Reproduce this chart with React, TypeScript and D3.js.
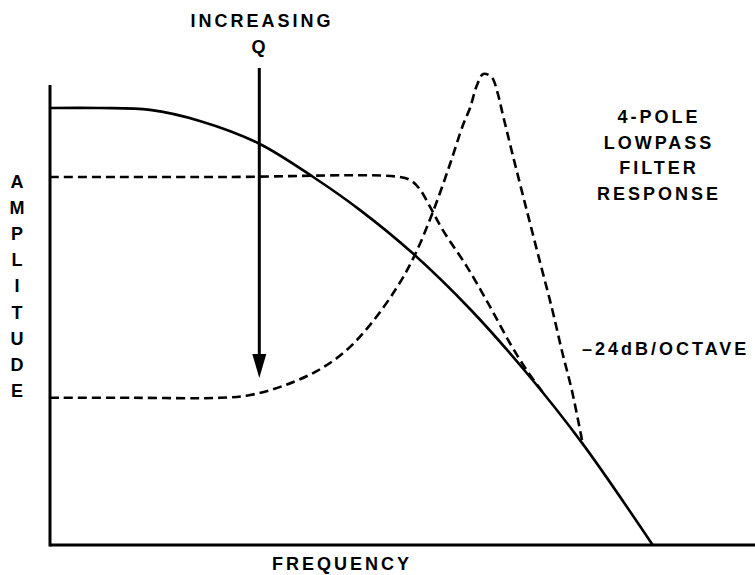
import React from 'react';
import * as d3 from 'd3';

// frequency (0-100) vs amplitude (0-100)
const flatFreq = [0, 7.1, 14.3, 21.4, 29.7, 37.6, 44.3, 51.9, 60.0, 68.1, 76.0, 86.1];
const flatAmp = [95.0, 95.0, 94.6, 92.2, 87.4, 80.0, 72.8, 63.3, 51.3, 37.4, 22.2, 0];

const midQFreq = [0, 25, 50.0, 51.7, 52.9, 54.3, 56.1, 59.6, 62.9, 65.7, 68.1, 70.7];
const midQAmp = [80.0, 80.0, 80.0, 79.1, 77.2, 73.5, 68.5, 60.4, 51.7, 43.9, 38.0, 32.6];

const highQFreq = [0, 12, 24.3, 28.6, 33.3, 38.1, 42.1, 45.7, 49.6, 52.1, 54.7, 57.1, 59.0, 60.0, 61.0, 61.9, 63.1, 63.9, 64.7, 66.1, 68.1, 70.0, 71.7, 73.1, 74.6, 76.0];
const highQAmp = [32.0, 32.0, 32.0, 32.6, 34.6, 37.8, 42.0, 47.8, 56.1, 63.0, 72.4, 82.6, 91.3, 95.0, 100.0, 102.4, 101.7, 98.5, 93.5, 84.8, 72.8, 61.5, 51.5, 42.4, 33.3, 22.8];

// arrow: frequency position, start and end amplitude
const arrowFreq = 29.9;
const arrowAmp = [103.7, 36.3];

const axisLetters = ['A', 'M', 'P', 'L', 'I', 'T', 'U', 'D', 'E'];
const titleLines = ['4-POLE', 'LOWPASS', 'FILTER', 'RESPONSE'];

const width = 755;
const height = 575;
const font = '"Liberation Sans", Arial, Helvetica, sans-serif';

const App = () => {
  const x = d3.scaleLinear().domain([0, 100]).range([50, 750]);
  const y = d3.scaleLinear().domain([0, 100]).range([545, 85]);

  const line = d3
    .line<[number, number]>()
    .x(d => x(d[0]))
    .y(d => y(d[1]))
    .curve(d3.curveCatmullRom.alpha(0.5));

  const zip = (xs: number[], ys: number[]) => xs.map((v, i) => [v, ys[i]] as [number, number]);

  const ax = x(arrowFreq);
  const tip = y(arrowAmp[1]);

  const textStyle = {
    fontFamily: font,
    fontWeight: 700,
    fontSize: 18,
    letterSpacing: 3,
    fill: '#000'
  };

  return (
    <svg
      width={width}
      height={height}
      style={{ position: 'absolute', left: 0, top: 0, display: 'block', background: '#fff' }}
    >
      {/* axes */}
      <line x1={x(0)} x2={x(0)} y1={y(0) + 1.5} y2={y(100)} stroke="#000" strokeWidth={3} />
      <line x1={x(0)} x2={width} y1={y(0)} y2={y(0)} stroke="#000" strokeWidth={3} />

      {/* curves */}
      <path d={line(zip(flatFreq, flatAmp)) || ''} fill="none" stroke="#000" strokeWidth={2.6} />
      <path
        d={line(zip(midQFreq, midQAmp)) || ''}
        fill="none"
        stroke="#000"
        strokeWidth={2.6}
        strokeDasharray="9 5"
      />
      <path
        d={line(zip(highQFreq, highQAmp)) || ''}
        fill="none"
        stroke="#000"
        strokeWidth={2.6}
        strokeDasharray="9 5"
      />

      {/* increasing Q arrow */}
      <line x1={ax} x2={ax} y1={y(arrowAmp[0])} y2={tip - 15} stroke="#000" strokeWidth={3} />
      <polygon points={`${ax - 7},${tip - 24} ${ax + 7},${tip - 24} ${ax},${tip}`} fill="#000" />

      <text x={262} y={27} textAnchor="middle" style={textStyle}>INCREASING</text>
      <text x={260} y={53} textAnchor="middle" style={textStyle}>Q</text>

      {titleLines.map((t, i) => (
        <text key={t} x={659} y={123 + i * 25.7} textAnchor="middle" style={textStyle}>
          {t}
        </text>
      ))}

      <text x={582} y={355} style={textStyle}>–24dB/OCTAVE</text>

      <text x={342} y={570} textAnchor="middle" style={textStyle}>FREQUENCY</text>

      {axisLetters.map((l, i) => (
        <text key={i} x={17} y={188 + i * 26.1} textAnchor="middle" style={{ ...textStyle, letterSpacing: 0 }}>
          {l}
        </text>
      ))}
    </svg>
  );
};

export default App;
